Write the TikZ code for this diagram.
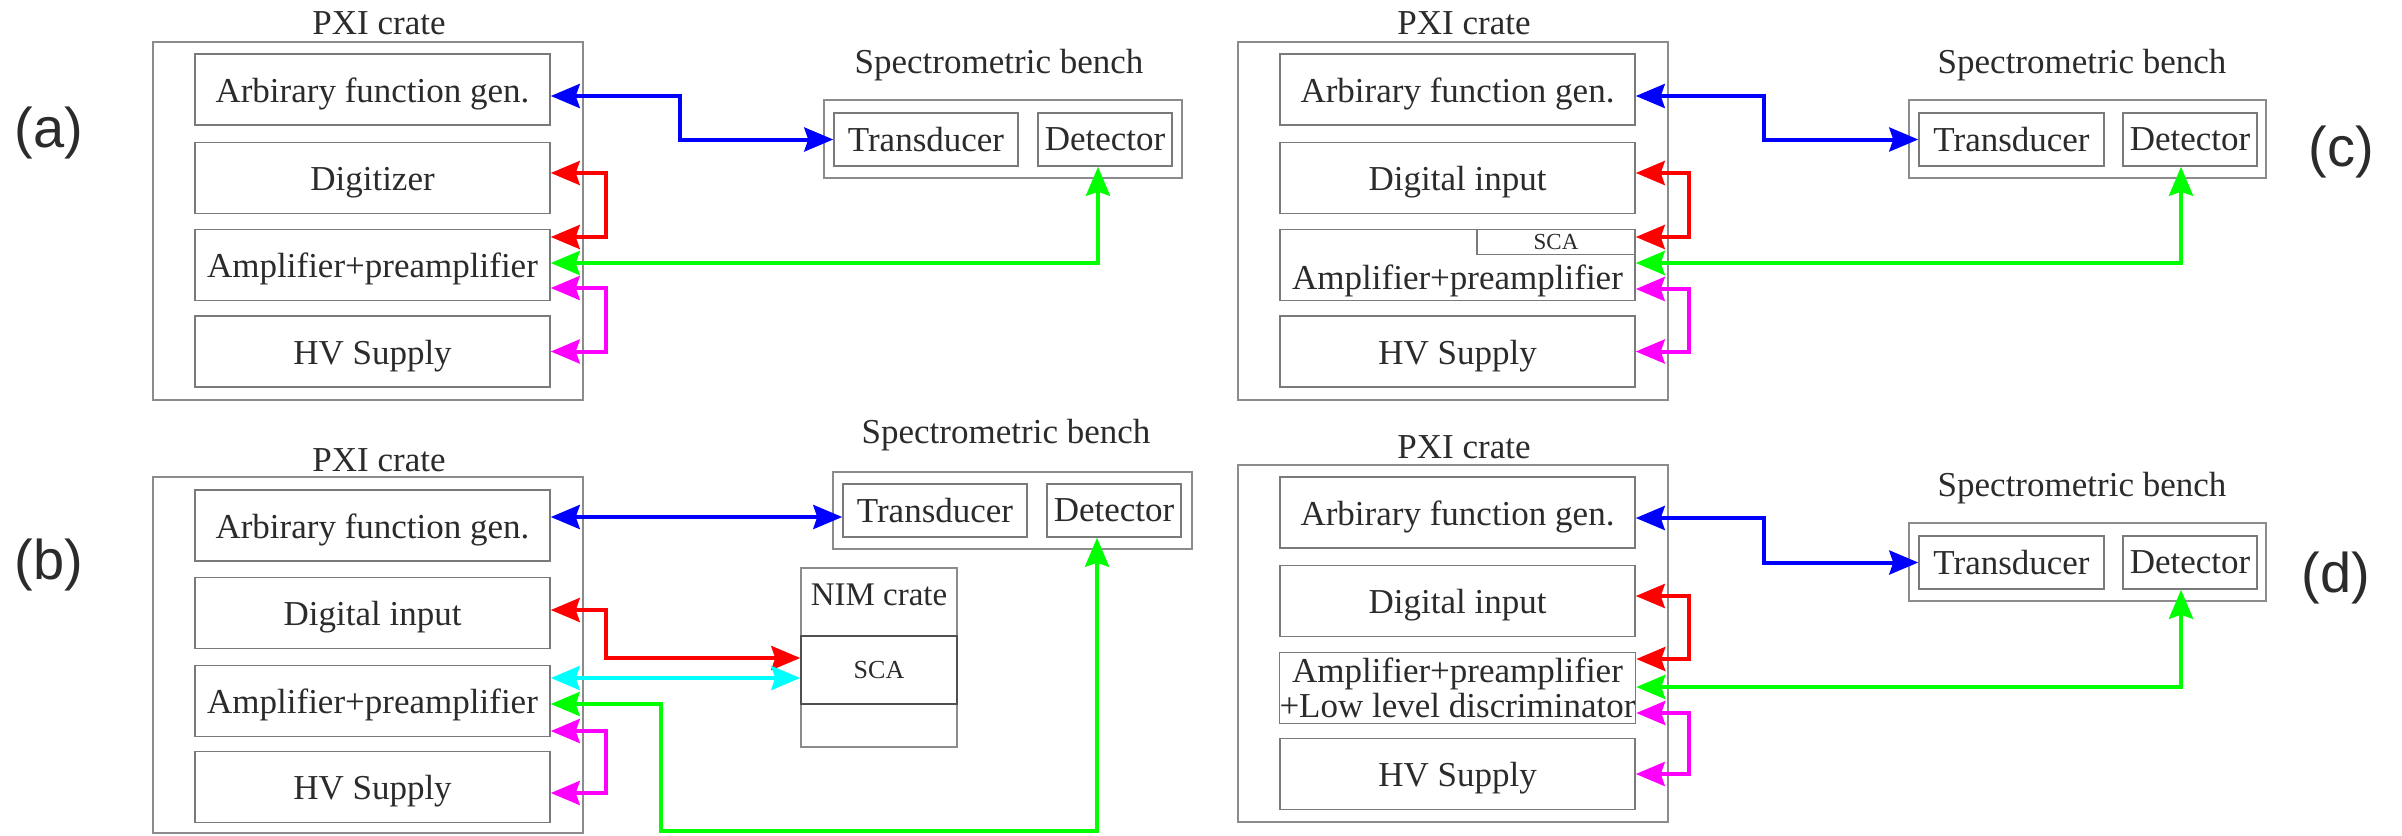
\documentclass[tikz,border=0pt]{standalone}
\usepackage{fontspec}
\setmainfont{Liberation Serif}
\newfontfamily\tagfont{Liberation Sans}
\usetikzlibrary{arrows.meta,calc}
\definecolor{txt}{HTML}{2B2B2B}
\definecolor{edge}{HTML}{7A7A7A}
\definecolor{crateedge}{HTML}{8C8C8C}
\definecolor{scaedge}{HTML}{505050}
\definecolor{lnkblue}{RGB}{0,0,255}
\definecolor{lnkred}{RGB}{255,0,0}
\definecolor{lnkgreen}{RGB}{0,255,0}
\definecolor{lnkmagenta}{RGB}{255,0,255}
\definecolor{lnkcyan}{RGB}{0,255,255}
\begin{document}
\begin{tikzpicture}[x=0.5pt,y=-0.5pt,
  every node/.style={text=txt},
  txtfont/.style={font=\fontsize{17.5}{17.5}\selectfont},
  box/.style={draw=edge, line width=0.75pt, inner sep=0pt, txtfont},
  modbox/.style={box, minimum width=177.5pt, minimum height=35.5pt},
  module/.style={modbox, text height=12.5pt, text depth=0pt},
  crate/.style={draw=crateedge, line width=0.75pt, inner sep=0pt, minimum width=215pt},
  title/.style={txtfont, inner sep=0pt},
  tag/.style={font=\tagfont\fontsize{28}{30}\selectfont, inner sep=0pt},
  link/.style={line width=2pt,
    {Stealth[length=14.5pt,width=12pt,inset=2pt]}-{Stealth[length=14.5pt,width=12pt,inset=2pt]}},
]
\useasboundingbox (0,0) rectangle (2402,835);

% ---------------- (a) ----------------
\node[crate, minimum height=179pt] (aPXI) at (368,221) {};
\node[title] (aPXIt) at (379,23) {PXI crate};
\node[module] (a1) at (372.5,89.5) {Arbirary function gen.};
\node[module] (a2) at (372.5,178) {Digitizer};
\node[module] (a3) at (372.5,265) {Amplifier+preamplifier};
\node[module] (a4) at (372.5,351.5) {HV Supply};
\node[crate, minimum width=179pt, minimum height=39pt] (aB) at (1003,139) {};
\node[title] (aBt) at (999,65) {Spectrometric bench};
\node[box, minimum width=92pt, minimum height=26.5pt] (aT) at (926,139.5) {Transducer};
\node[box, minimum width=67pt, minimum height=26.5pt] (aD) at (1105,139.5) {Detector};
\node[tag] (aTag) at (49,133) {(a)};

\draw[link, lnkblue] ($(a1.east)+(0,6.5)$) -- ++(129,0) |- (aT.west);
\draw[link, lnkred] ($(a2.east)+(0,-5)$) -- ++(55,0) |- ($(a3.east)+(0,-28)$);
\draw[link, lnkgreen] ($(a3.east)+(0,-2)$) -| ($(aD.south)+(-7,0)$);
\draw[link, lnkmagenta] ($(a3.east)+(0,23)$) -- ++(55,0) |- (a4.east);

% ---------------- (c) ----------------
\node[crate, minimum height=179pt] (cPXI) at (1453,221) {};
\node[title] (cPXIt) at (1464,23) {PXI crate};
\node[module] (c1) at (1457.5,89.5) {Arbirary function gen.};
\node[module] (c2) at (1457.5,178) {Digital input};
\node[modbox] (c3) at (1457.5,265) {};
\node[box, anchor=north east, minimum width=79pt, minimum height=12.5pt,
      font=\fontsize{11.5}{11.5}\selectfont] (cSCA) at (c3.north east) {SCA};
\node[title] (c3t) at (1457.5,281) {Amplifier+preamplifier};
\node[module] (c4) at (1457.5,351.5) {HV Supply};
\node[crate, minimum width=178.5pt, minimum height=39pt] (cB) at (2087.5,139) {};
\node[title] (cBt) at (2082,65) {Spectrometric bench};
\node[box, minimum width=92.5pt, minimum height=26.5pt] (cT) at (2011.5,139.5) {Transducer};
\node[box, minimum width=67pt, minimum height=26.5pt] (cD) at (2190,139.5) {Detector};
\node[tag] (cTag) at (2341,152) {(c)};

\draw[link, lnkblue] ($(c1.east)+(0,6.5)$) -- ++(128,0) |- (cT.west);
\draw[link, lnkred] ($(c2.east)+(0,-5)$) -- ++(53,0) |- ($(c3.east)+(0,-28)$);
\draw[link, lnkgreen] ($(c3.east)+(0,-2)$) -| ($(cD.south)+(-9,0)$);
\draw[link, lnkmagenta] ($(c3.east)+(0,24)$) -- ++(53,0) |- (c4.east);

% ---------------- (b) ----------------
\node[crate, minimum height=178pt] (bPXI) at (368,655) {};
\node[title] (bPXIt) at (379,460) {PXI crate};
\node[module] (b1) at (372.5,525.5) {Arbirary function gen.};
\node[module] (b2) at (372.5,613) {Digital input};
\node[module] (b3) at (372.5,701) {Amplifier+preamplifier};
\node[module] (b4) at (372.5,787) {HV Supply};
\node[crate, minimum width=179.5pt, minimum height=38.5pt] (bB) at (1012.5,510.5) {};
\node[title] (bBt) at (1006,435) {Spectrometric bench};
\node[box, minimum width=92pt, minimum height=26.5pt] (bT) at (935,510.5) {Transducer};
\node[box, minimum width=67pt, minimum height=26.5pt] (bD) at (1114,510.5) {Detector};
\node[crate, minimum width=78pt, minimum height=89.5pt] (bNIM) at (879,657.5) {};
\node[title, font=\fontsize{16.5}{16.5}\selectfont] (bNIMt) at (879,595) {NIM crate};
\node[box, draw=scaedge, minimum width=78pt, minimum height=34pt,
      font=\fontsize{13}{13}\selectfont] (bSCA) at (879,670) {SCA};
\node[tag] (bTag) at (49,565) {(b)};

\draw[link, lnkblue] ($(b1.east)+(0,-8.5)$) -- ($(bT.west)+(0,6.5)$);
\draw[link, lnkred] ($(b2.east)+(0,-3)$) -- ++(55,0) |- ($(bSCA.west)+(0,-12)$);
\draw[link, lnkcyan] ($(b3.east)+(0,-23)$) -- ($(bSCA.west)+(0,8)$);
\draw[link, lnkgreen] ($(b3.east)+(0,3)$) -- ++(110,0) -- ++(0,127) -| ($(bD.south)+(-17,0)$);
\draw[link, lnkmagenta] ($(b3.east)+(0,30)$) -- ++(55,0) |- ($(b4.east)+(0,6)$);

% ---------------- (d) ----------------
\node[crate, minimum height=178.5pt] (dPXI) at (1453,643.5) {};
\node[title] (dPXIt) at (1464,447) {PXI crate};
\node[module] (d1) at (1457.5,512.5) {Arbirary function gen.};
\node[module] (d2) at (1457.5,601) {Digital input};
\node[modbox, align=center] (d3) at (1457.5,688) {Amplifier+preamplifier\\+Low level discriminator};
\node[module] (d4) at (1457.5,774) {HV Supply};
\node[crate, minimum width=178.5pt, minimum height=39pt] (dB) at (2087.5,562) {};
\node[title] (dBt) at (2082,488) {Spectrometric bench};
\node[box, minimum width=92.5pt, minimum height=26.5pt] (dT) at (2011.5,562.5) {Transducer};
\node[box, minimum width=67pt, minimum height=26.5pt] (dD) at (2190,562.5) {Detector};
\node[tag] (dTag) at (2336,578) {(d)};

\draw[link, lnkblue] ($(d1.east)+(0,5.5)$) -- ++(128,0) |- (dT.west);
\draw[link, lnkred] ($(d2.east)+(0,-5)$) -- ++(53,0) |- ($(d3.east)+(0,-29)$);
\draw[link, lnkgreen] ($(d3.east)+(0,-1)$) -| ($(dD.south)+(-9,0)$);
\draw[link, lnkmagenta] ($(d3.east)+(0,25)$) -- ++(53,0) |- (d4.east);
\end{tikzpicture}
\end{document}
